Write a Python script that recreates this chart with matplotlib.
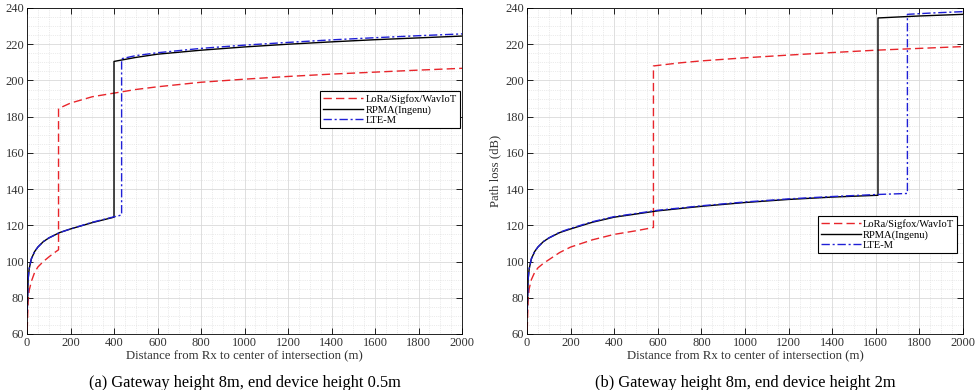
import matplotlib.pyplot as plt
from matplotlib.ticker import MultipleLocator

plt.rcParams['font.family'] = ['Liberation Serif', 'DejaVu Serif']

# ---- data ----
# (a) gateway 8m, device 0.5m
a_lora_x = [1, 5, 10, 20, 35, 50, 75, 100, 125, 145, 145, 200, 300, 400, 500, 600, 800, 1000, 1200, 1400, 1600, 1800, 2000]
a_lora_y = [62, 78, 84, 89, 94, 97, 100, 102.5, 104.8, 106.5, 184.5, 187.5, 191, 193, 195, 196.5, 199, 200.7, 202.2, 203.5, 204.6, 205.7, 206.7]
a_rpma_x = [1, 5, 10, 20, 35, 50, 75, 100, 150, 200, 300, 400, 400, 500, 600, 800, 1000, 1200, 1400, 1600, 1800, 2000]
a_rpma_y = [72, 90, 96, 101.5, 105.5, 108, 111, 113, 116, 118, 121.5, 124.5, 210.5, 212.7, 214.5, 216.7, 218.5, 220, 221.3, 222.5, 223.5, 224.5]
a_lte_x = [1, 5, 10, 20, 35, 50, 75, 100, 150, 200, 300, 400, 435, 435, 500, 600, 800, 1000, 1200, 1400, 1600, 1800, 2000]
a_lte_y = [72, 90, 96, 101.5, 105.5, 108, 111, 113, 116, 118, 121.7, 124.7, 125.7, 212, 213.7, 215.3, 217.7, 219.5, 221, 222.4, 223.6, 224.7, 225.7]

# (b) gateway 8m, device 2m
b_lora_x = [1, 5, 10, 20, 35, 50, 75, 100, 150, 200, 300, 400, 500, 580, 580, 700, 800, 1000, 1200, 1400, 1600, 1800, 2000]
b_lora_y = [62, 79, 85, 90, 94, 96.5, 99, 101, 105, 108, 112, 115, 117, 118.8, 208, 209.7, 210.8, 212.5, 214, 215.4, 216.7, 217.7, 218.7]
b_rpma_x = [1, 5, 10, 20, 35, 50, 75, 100, 150, 200, 300, 400, 600, 800, 1000, 1200, 1400, 1610, 1610, 1800, 2000]
b_rpma_y = [72, 90, 96, 101.5, 105.5, 108, 111, 113, 116, 118, 121.7, 124.5, 128, 130.5, 132.6, 134.3, 135.6, 136.6, 234.5, 235.6, 236.5]
b_lte_x = [1, 5, 10, 20, 35, 50, 75, 100, 150, 200, 300, 400, 600, 800, 1000, 1200, 1400, 1600, 1745, 1745, 1850, 2000]
b_lte_y = [72, 90, 96, 101.5, 105.5, 108, 111, 113, 116.2, 118.3, 122, 124.8, 128.3, 130.8, 132.9, 134.6, 135.9, 137, 137.6, 236.5, 237.2, 238]

names = ['LoRa/Sigfox/WavIoT', 'RPMA(Ingenu)', 'LTE-M']
captions = ['(a) Gateway height 8m, end device height 0.5m',
            '(b) Gateway height 8m, end device height 2m']

fig = plt.figure(figsize=(9.75, 3.9), dpi=100)
ax1 = fig.add_axes([27/975, 1-334/390, 435/975, 326/390])
ax2 = fig.add_axes([527/975, 1-334/390, 436/975, 326/390])

panels = [(ax1, (a_lora_x, a_lora_y), (a_rpma_x, a_rpma_y), (a_lte_x, a_lte_y), (0.995, 0.745)),
          (ax2, (b_lora_x, b_lora_y), (b_rpma_x, b_rpma_y), (b_lte_x, b_lte_y), (0.987, 0.362))]

for ax, lora, rpma, lte, anchor in panels:
    ax.plot(lora[0], lora[1], color='#e8252b', linestyle=(0, (6, 3)), linewidth=1.0, label=names[0])
    ax.plot(rpma[0], rpma[1], color='black', linestyle='-', linewidth=1.0, label=names[1])
    ax.plot(lte[0], lte[1], color='#1f1fd6', linestyle=(0, (6, 2, 1.5, 2)), linewidth=1.0, label=names[2])
    ax.set_xlim(0, 2000)
    ax.set_ylim(60, 240)
    ax.xaxis.set_major_locator(MultipleLocator(200))
    ax.xaxis.set_minor_locator(MultipleLocator(50))
    ax.yaxis.set_major_locator(MultipleLocator(20))
    ax.yaxis.set_minor_locator(MultipleLocator(5))
    ax.grid(True, which='major', color='#d9d9d9', linewidth=0.6)
    ax.grid(True, which='minor', color='#d9d9d9', linestyle=':', linewidth=0.5)
    ax.set_axisbelow(True)
    ax.tick_params(which='both', direction='in', top=True, right=True, labelsize=9, pad=2,
                   labelcolor='#333333')
    ax.tick_params(which='minor', length=0)
    ax.tick_params(which='major', length=4, width=0.6)
    for s in ax.spines.values():
        s.set_linewidth(0.6)
    ax.set_xlabel('Distance from Rx to center of intersection (m)', fontsize=9.2, labelpad=1, color='#333333')
    leg = ax.legend(loc='upper right', bbox_to_anchor=anchor, fontsize=7.6, fancybox=False,
                    framealpha=1, edgecolor='black', borderpad=0.3, labelspacing=0.1,
                    handlelength=3.8, handletextpad=0.2, borderaxespad=0)
    leg.get_frame().set_linewidth(0.8)

ax2.set_ylabel('Path loss (dB)', fontsize=9.2, labelpad=3, color='#333333')
# left panel label is clipped at the figure edge in the original
fig.text(-0.014, 0.56, 'Path loss (dB)', rotation=90, fontsize=9.2, va='center', ha='center', color='#333333')

fig.text(245/975, 1-383/390, captions[0], fontsize=11.8, ha='center', va='center')
fig.text(745/975, 1-383/390, captions[1], fontsize=11.8, ha='center', va='center')

plt.savefig('out.png', dpi=100)
